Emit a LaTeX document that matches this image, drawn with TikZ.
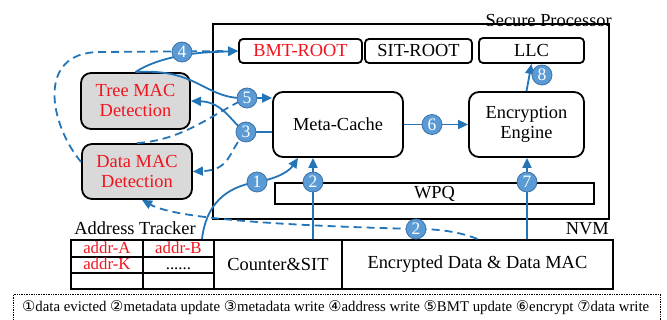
\documentclass[tikz,border=0pt]{standalone}
\usepackage{fontspec}
\setmainfont{Liberation Serif}
\newfontfamily\circfont{DejaVu Sans}
\usetikzlibrary{arrows.meta,calc}
\definecolor{flowblue}{HTML}{2375B8}
\definecolor{badgefill}{HTML}{5B9BD5}
\definecolor{badgeedge}{HTML}{3D73A8}
\definecolor{macgray}{HTML}{D9D9D9}
\definecolor{alertred}{HTML}{F0141E}
\tikzset{
  txt/.style={font=\fontsize{18.4}{21}\selectfont},
  box/.style={draw=black, line width=1.8pt, inner sep=0pt, txt, align=center},
  rbox/.style={box, rounded corners=4pt},
  bigbox/.style={box, rounded corners=10pt},
  macbox/.style={box, rounded corners=10pt, fill=macgray, text=alertred},
  cell/.style={draw=black, line width=1.8pt, inner sep=0pt, txt, anchor=north west},
  smallcell/.style={cell, font=\fontsize{16.8}{17}\selectfont, text height=11pt, text depth=1pt},
  flow/.style={draw=flowblue, line width=1.8pt},
  dflow/.style={flow, dash pattern=on 8pt off 5pt},
  tip/.style={-{Triangle[length=10pt,width=9pt]}},
  badge/.style={circle, fill=badgefill, draw=badgeedge, line width=0.8pt,
    minimum size=20pt, inner sep=0pt, text=white,
    font=\fontsize{17.5}{17}\selectfont},
}
\begin{document}
\begin{tikzpicture}[x=1pt,y=-1pt]
\useasboundingbox (0,0) rectangle (667,320);

% secure processor outline
\node[draw=black, line width=1.8pt, minimum width=396pt, minimum height=195pt,
  inner sep=0pt, anchor=north west] (sp) at (212,23) {};
\node[txt, anchor=south east, inner sep=0pt] (splabel) at (612,27) {Secure Processor};

% on-chip units
\node[rbox, minimum width=123pt, minimum height=24pt, text=alertred] (bmt) at (300.5,51) {BMT-ROOT};
\node[rbox, minimum width=107pt, minimum height=24pt] (sit) at (418.5,51) {SIT-ROOT};
\node[rbox, minimum width=105pt, minimum height=25pt] (llc) at (531.5,50.5) {LLC};
\node[bigbox, minimum width=130pt, minimum height=65pt] (mc) at (338,124.5) {Meta-Cache};
\node[bigbox, minimum width=115pt, minimum height=65pt] (ee) at (526.5,124.5) {Encryption\\[-1pt]Engine};
\node[box, minimum width=319pt, minimum height=21pt] (wpq) at (434.5,193.5) {WPQ};

% MAC checkers
\node[macbox, minimum width=109pt, minimum height=56pt] (tm) at (135.5,101) {Tree MAC\\[-1pt]Detection};
\node[macbox, minimum width=110pt, minimum height=55pt] (dm) at (137,171.5) {Data MAC\\[-1pt]Detection};

% NVM side
\node[txt, anchor=south east, inner sep=0pt] (nvm) at (609,235) {NVM};
\node[txt, anchor=south, inner sep=0pt] (atlabel) at (135,235) {Address Tracker};

\node[smallcell, minimum width=72pt, minimum height=17pt, text=alertred] (ca) at (70,239) {addr-A};
\node[smallcell, minimum width=71pt, minimum height=17pt, text=alertred] (cb) at (142,239) {addr-B};
\node[smallcell, minimum width=72pt, minimum height=16pt, text=alertred] (ck) at (70,256) {addr-K};
\node[smallcell, minimum width=71pt, minimum height=16pt] (cd) at (142,256) {......};
\node[smallcell, minimum width=72pt, minimum height=16pt] (ce1) at (70,272) {};
\node[smallcell, minimum width=71pt, minimum height=16pt] (ce2) at (142,272) {};
\node[cell, minimum width=128pt, minimum height=49pt] (cs) at (213,239) {Counter\&SIT};
\node[cell, minimum width=271pt, minimum height=49pt] (ed) at (341,239) {Encrypted Data \& Data MAC};

% badge positions
\coordinate (p1) at (257,182);
\coordinate (p2a) at (313,182);
\coordinate (p2b) at (416,229);
\coordinate (p3) at (246,132);
\coordinate (p4) at (182,52);
\coordinate (p5) at (247,98);
\coordinate (p6) at (432,124.5);
\coordinate (p7) at (527,182);
\coordinate (p8) at (542,75);
\coordinate (a1) at (202,239);

% 4: address write
\draw[dflow, tip] ([yshift=9.5pt]dm.west) .. controls (50,125) and (35,52) .. (100,52) -- (bmt.west);
\draw[flow, tip] (tm.north) .. controls (150,62) and (180,53) .. (215,52) -- (bmt.west);
% 5: BMT update
\draw[flow, tip] (tm.north) .. controls (195,68) and (205,97) .. (240,98) -- (mc.west |- p5);
\draw[dflow] (dm.north) .. controls (185,140) and (215,112) .. (p5);
% 3: metadata write
\draw[flow, tip] (mc.west |- p3) -- (p3) .. controls (232,124) and (224,102) .. (tm.east);
\draw[dflow, tip] (p3) .. controls (228,150) and (232,170) .. (dm.east);
% 1: data evicted
\draw[flow, tip] (a1) .. controls (206,205) and (225,187) .. (p1)
  .. controls (280,178) and (290,170) .. ([xshift=-40pt]mc.south);
% 2: metadata update
\draw[flow, tip] (p2a |- cs.north) -- (p2a |- mc.south);
\draw[dflow, tip] (ed.north) .. controls (460,232) and (440,229) .. (p2b)
  .. controls (300,226) and (178,220) .. ([xshift=5pt]dm.south);
% 6, 7, 8
\draw[flow, tip] (mc.east) -- (ee.west);
\draw[flow, tip] (p7 |- ed.north) -- (p7 |- ee.south);
\draw[flow, tip] (ee.north) -- (llc.south);

% badges
\node[badge] (b1) at (p1) {1};
\node[badge] (b2a) at (p2a) {2};
\node[badge] (b2b) at (p2b) {2};
\node[badge] (b3) at (p3) {3};
\node[badge] (b4) at (p4) {4};
\node[badge] (b5) at (p5) {5};
\node[badge] (b6) at (p6) {6};
\node[badge] (b7) at (p7) {7};
\node[badge] (b8) at (p8) {8};

% legend
\node[draw=black, densely dotted, line width=0.7pt, anchor=north west,
  minimum width=647pt, minimum height=28pt, inner sep=0pt] (lg) at (13,294) {};
\node[anchor=west, inner sep=0pt, font=\fontsize{14.8}{16}\selectfont] (lgtext) at (22,308)
  {{\circfont ①}data evicted {\circfont ②}metadata update {\circfont ③}metadata write {\circfont ④}address write {\circfont ⑤}BMT update {\circfont ⑥}encrypt {\circfont ⑦}data write};
\end{tikzpicture}
\end{document}
